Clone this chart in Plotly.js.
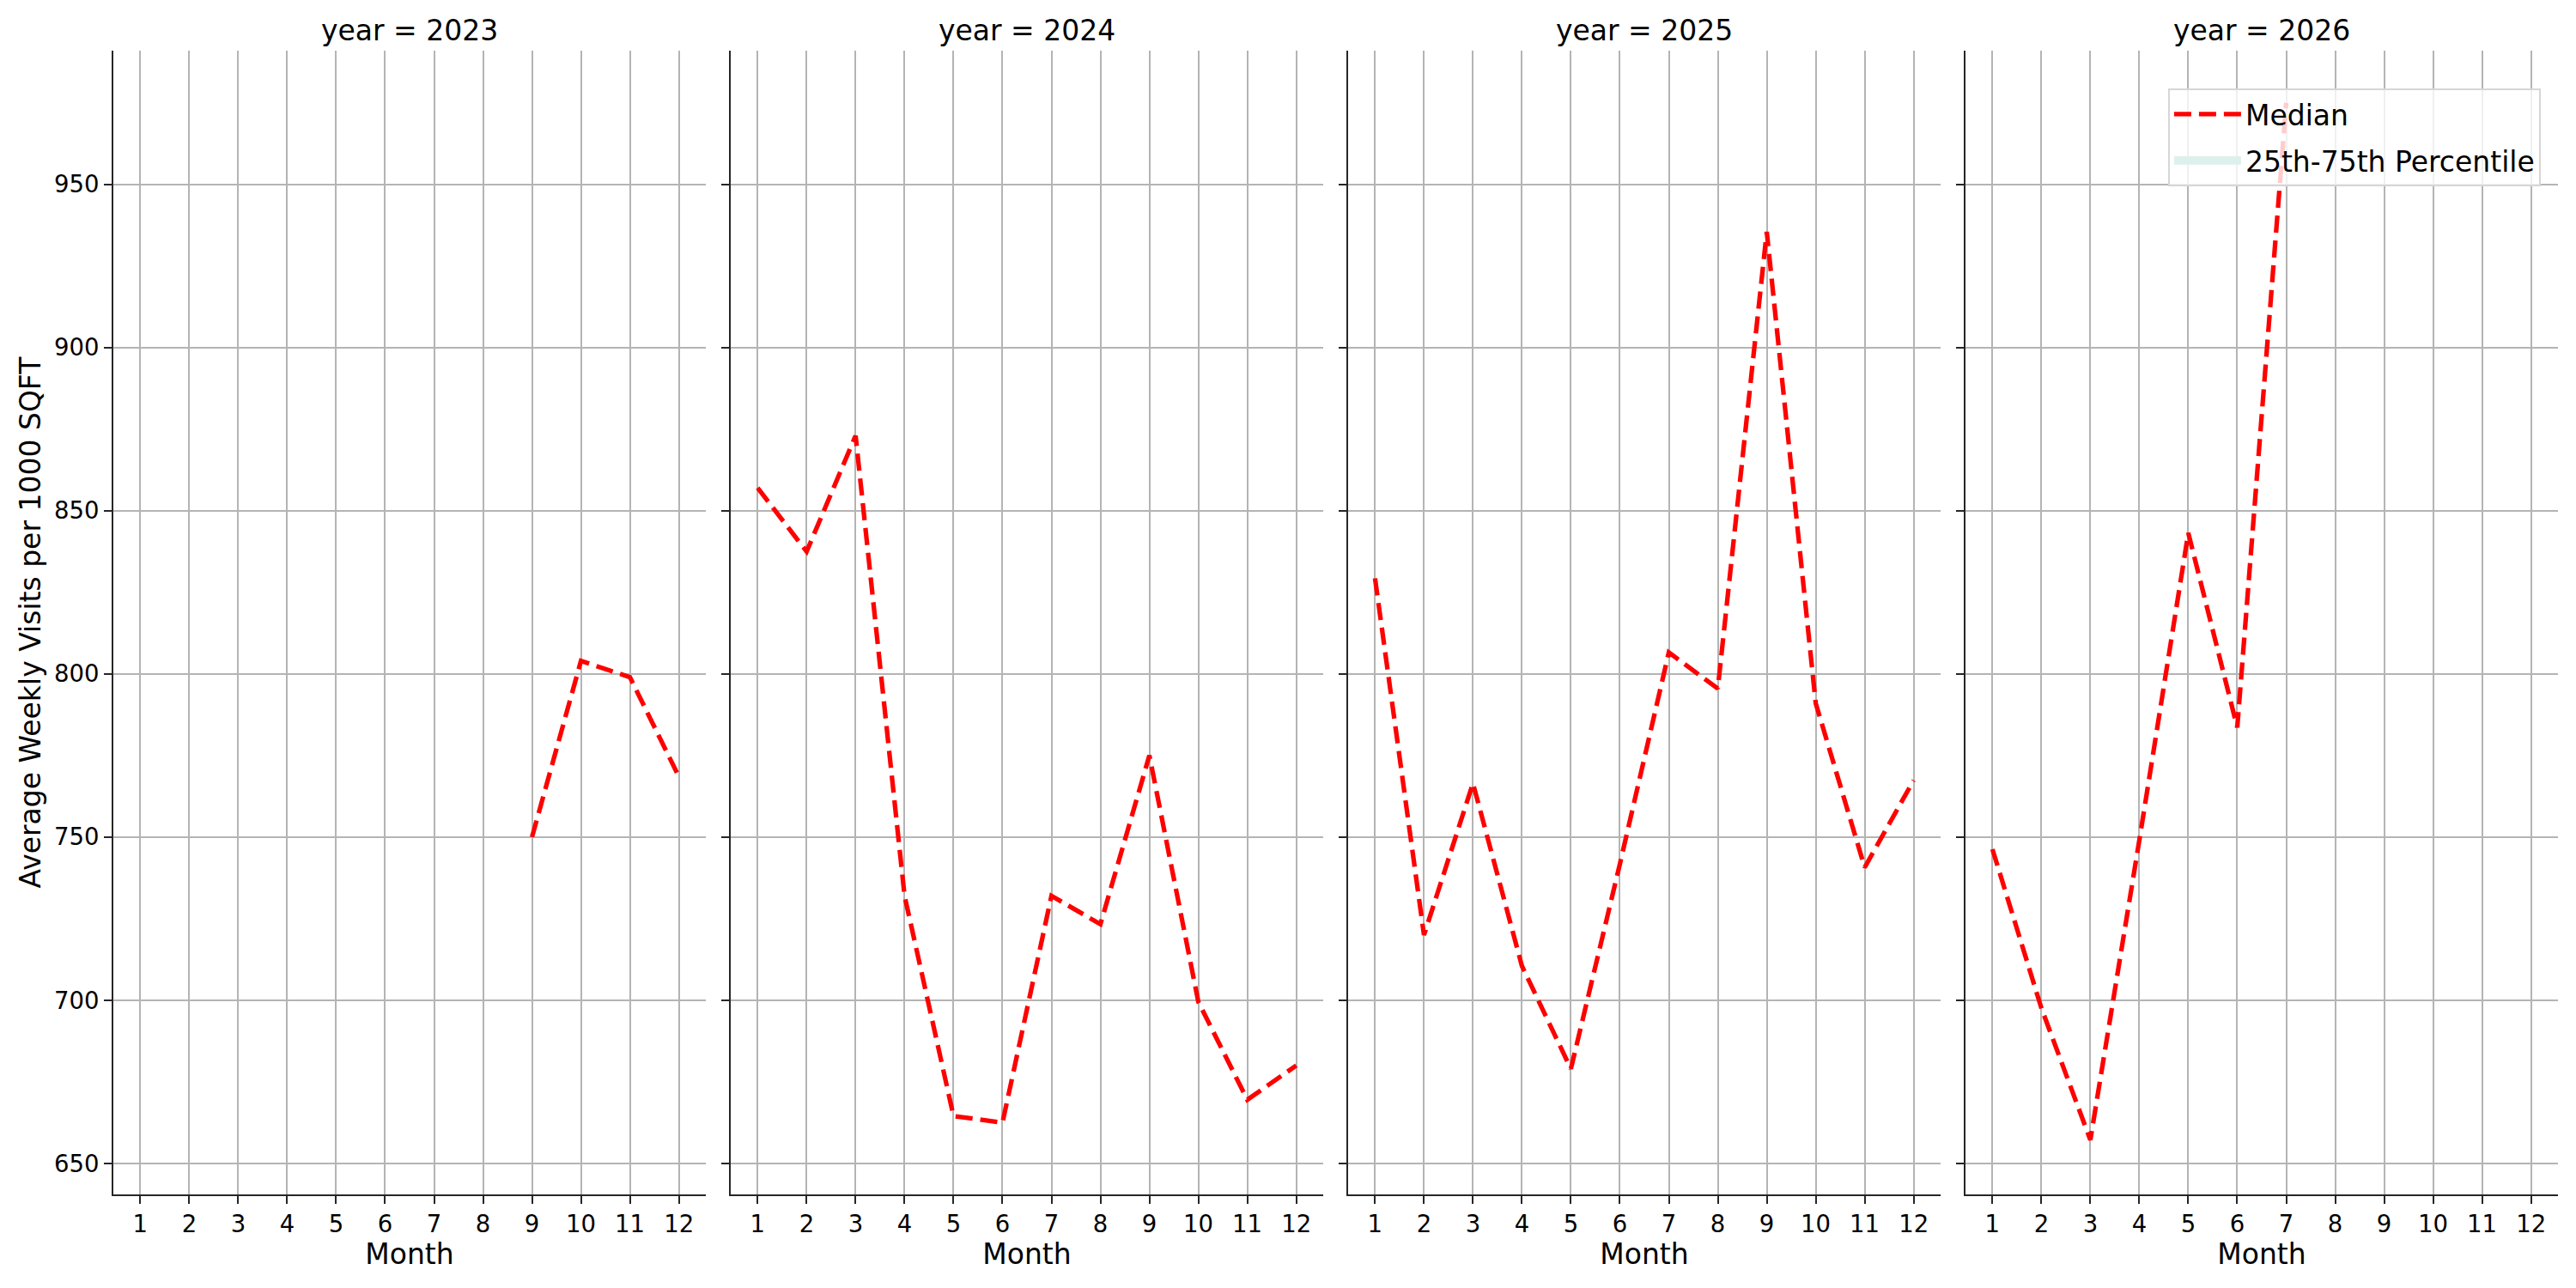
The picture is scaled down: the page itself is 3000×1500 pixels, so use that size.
<!DOCTYPE html>
<html>
<head>
<meta charset="utf-8">
<script src="https://cdn.plot.ly/plotly-3.0.1.min.js"></script>
<style>
    html, body { margin: 0; padding: 0; background: white; }
    #chart { width: 3000px; height: 1500px; }
</style>
</head>
<body>
<div id="chart"></div>
<script>

// values
const years = [ 2023, 2024, 2025, 2026 ];

const months2023 = [ 9, 10, 11, 12 ];
const median2023 = [ 750, 804, 799, 768.5 ];

const months2024 = [ 1, 2, 3, 4, 5, 6, 7, 8, 9, 10, 11, 12 ];
const median2024 = [ 857, 837.5, 873, 732, 664.5, 662.5, 732, 723.3, 775, 699.5, 669.5, 680 ];

const months2025 = [ 1, 2, 3, 4, 5, 6, 7, 8, 9, 10, 11, 12 ];
const median2025 = [ 829.3, 720, 766.5, 710.5, 679, 741.7, 806.6, 795.5, 935.5, 791, 740.7, 767.4 ];

const months2026 = [ 1, 2, 3, 4, 5, 6, 7 ];
const median2026 = [ 746.3, 697.6, 657.2, 749, 843.2, 783.6, 975 ];

const monthTicks = [ 1, 2, 3, 4, 5, 6, 7, 8, 9, 10, 11, 12 ];
const valueTicks = [ 650, 700, 750, 800, 850, 900, 950 ];

const seriesMonths = [ months2023, months2024, months2025, months2026 ];
const seriesMedian = [ median2023, median2024, median2025, median2026 ];

const FONT = 'DejaVu Sans';
const domains = [
    [ 0, 0.24236 ],
    [ 0.25255, 0.49491 ],
    [ 0.50509, 0.74745 ],
    [ 0.75764, 1 ]
];

const data = [];

seriesMonths.forEach( ( mx, i ) => {

    const suffix = i === 0 ? '' : String( i + 1 );

    data.push( {
        type: 'scatter',
        mode: 'lines',
        name: 'Median',
        legendgroup: 'median',
        showlegend: i === 3,
        xaxis: 'x' + suffix,
        yaxis: 'y' + suffix,
        x: mx,
        y: seriesMedian[ i ],
        line: {
            color: 'red',
            width: 5.3,
            dash: '20px,9px'
        },
        hoverinfo: 'skip'
    } );

} );

// percentile band has no visible area in the source, only its legend entry
// (a wide line stands in for matplotlib's patch swatch)
data.push( {
    type: 'scatter',
    mode: 'lines',
    name: '25th-75th Percentile',
    legendgroup: 'band',
    xaxis: 'x4',
    yaxis: 'y4',
    x: [ null ],
    y: [ null ],
    line: { width: 23, color: 'rgb(222,240,235)' }
} );

const layout = {
    width: 3000,
    height: 1500,
    paper_bgcolor: 'white',
    plot_bgcolor: 'white',
    margin: { l: 132, r: 21, t: 59, b: 109 },
    font: { family: FONT, color: 'black', size: 27.5 },
    showlegend: true,
    legend: {
        x: 0.8405,
        y: 0.967,
        xanchor: 'left',
        yanchor: 'top',
        traceorder: 'grouped',
        tracegroupgap: 8,
        bgcolor: 'rgba(255,255,255,0.8)',
        bordercolor: '#d6d6d6',
        borderwidth: 2,
        font: { family: FONT, size: 33, color: 'black' },
        itemwidth: 78
    },
    annotations: []
};

years.forEach( ( year, i ) => {

    const suffix = i === 0 ? '' : String( i + 1 );

    layout[ 'xaxis' + suffix ] = {
        domain: domains[ i ],
        anchor: 'y' + suffix,
        range: [ 0.45, 12.55 ],
        tickmode: 'array',
        tickvals: monthTicks,
        ticktext: monthTicks.map( String ),
        ticks: 'outside',
        ticklen: 9,
        tickwidth: 2,
        tickcolor: '#262626',
        tickfont: { family: FONT, size: 27.5, color: 'black' },
        showline: true,
        linecolor: '#262626',
        linewidth: 2,
        showgrid: true,
        gridcolor: '#b4b4b4',
        gridwidth: 2,
        zeroline: false,
        automargin: false,
        title: {
            text: 'Month',
            standoff: 9,
            font: { family: FONT, size: 33, color: 'black' }
        }
    };

    layout[ 'yaxis' + suffix ] = {
        domain: [ 0, 1 ],
        anchor: 'x' + suffix,
        range: [ 640.5, 991 ],
        tickmode: 'array',
        tickvals: valueTicks,
        ticktext: valueTicks.map( String ),
        showticklabels: i === 0,
        ticks: 'outside',
        ticklen: 9,
        tickwidth: 2,
        tickcolor: '#262626',
        tickfont: { family: FONT, size: 27.5, color: 'black' },
        showline: true,
        linecolor: '#262626',
        linewidth: 2,
        showgrid: true,
        gridcolor: '#b4b4b4',
        gridwidth: 2,
        zeroline: false,
        automargin: false
    };

    if ( i === 0 ) {
        layout.yaxis.title = {
            text: 'Average Weekly Visits per 1000 SQFT',
            standoff: 5,
            font: { family: FONT, size: 33, color: 'black' }
        };
    }

    layout.annotations.push( {
        text: 'year = ' + year,
        xref: 'paper',
        yref: 'paper',
        x: ( domains[ i ][ 0 ] + domains[ i ][ 1 ] ) / 2,
        y: 1.0173,
        xanchor: 'center',
        yanchor: 'middle',
        showarrow: false,
        font: { family: FONT, size: 33, color: 'black' }
    } );

} );

Plotly.newPlot( 'chart', data, layout, { displayModeBar: false, staticPlot: true } );

</script>
</body>
</html>
